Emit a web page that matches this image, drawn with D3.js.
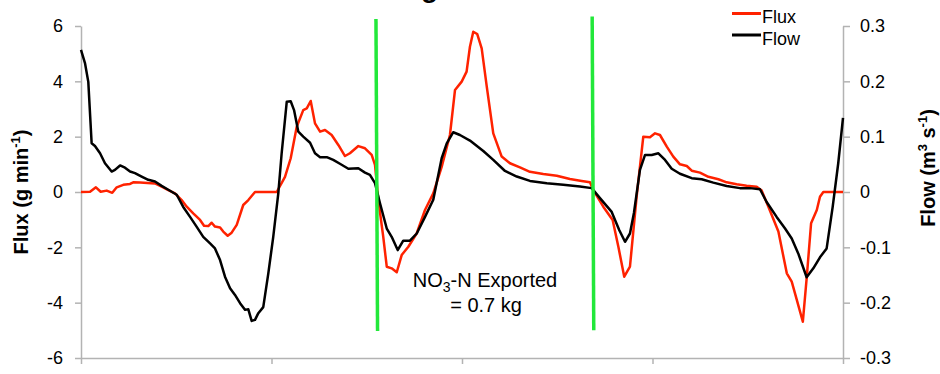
<!DOCTYPE html>
<html>
<head>
<meta charset="utf-8">
<script src="https://cdn.jsdelivr.net/npm/d3@7"></script>
<style>
  body { margin: 0; background: #fff; }
  svg text { font-family: "Liberation Sans", Arial, sans-serif; }
</style>
</head>
<body>
<div id="chart"></div>
<script>
// time (hours) and NO3-N flux (g/min)
var fluxT = [0,0.57,0.94,1.24,1.62,1.97,2.25,2.66,3.09,3.29,
  3.72,4.66,5.08,5.5,5.92,6.34,6.66,7.07,7.5,7.75,
  8.02,8.23,8.44,8.76,8.96,9.24,9.49,9.81,10.22,10.54,
  10.96,12.33,12.85,13.21,13.59,14,14.22,14.47,14.74,15.06,
  15.37,15.79,16.21,16.63,16.94,17.47,17.89,18.31,18.52,18.73,
  19.04,19.26,19.57,19.89,20.2,20.62,21.15,21.67,22.19,22.72,
  23.24,23.56,23.98,24.29,24.5,24.71,24.96,25.24,25.56,25.97,
  26.5,27.02,27.65,28.28,29.12,29.97,30.8,31.54,32.06,32.27,
  32.9,33.49,33.85,34.22,34.58,35,35.42,35.84,36.16,36.47,
  36.9,37.31,37.73,38.16,38.47,38.99,39.52,40.15,40.67,41.3,
  41.93,42.56,42.88,43.3,43.93,44.46,44.77,45.09,45.47,45.72,
  45.99,46.35,46.55,46.76,48];
var fluxV = [0,0.01,0.17,0.01,0.05,-0.03,0.17,0.26,0.29,0.35,
  0.34,0.31,0.19,0.07,-0.05,-0.29,-0.53,-0.77,-1.01,-1.22,
  -1.23,-1.11,-1.25,-1.28,-1.43,-1.58,-1.47,-1.19,-0.47,-0.29,
  0,0,0.55,1.22,2.36,2.96,3.02,3.29,2.48,2.18,
  2.24,2.06,1.70,1.30,1.40,1.66,1.58,1.34,0.98,-0.29,
  -1.62,-2.70,-2.76,-2.90,-2.28,-1.98,-1.49,-0.65,-0.05,0.91,
  2.06,3.69,3.99,4.35,5.25,5.79,5.71,5.19,3.81,2.12,
  1.28,1.04,0.89,0.73,0.65,0.59,0.47,0.40,0.35,0.07,
  -0.53,-1.01,-1.98,-3.06,-2.70,-0.17,2.00,1.98,2.12,2.06,
  1.64,1.28,1.00,0.94,0.77,0.70,0.55,0.46,0.35,0.28,
  0.23,0.19,0.05,-0.53,-1.43,-2.94,-3.24,-3.90,-4.69,-3.06,
  -1.13,-0.65,-0.17,0,0];

// time (hours) and flow (m3/s), black curve
var flowT = [0,0.25,0.46,0.67,0.88,1.2,1.51,1.93,2.14,2.46,
  2.77,3.09,3.4,3.82,4.24,4.66,5.08,5.5,6.03,6.44,
  6.87,7.29,7.7,8.13,8.44,8.76,9.07,9.39,9.7,10.02,
  10.33,10.54,10.75,10.96,11.17,11.48,11.8,12.11,12.43,12.64,
  12.96,13.21,13.42,13.69,14,14.43,14.74,15.06,15.48,15.89,
  16.31,16.84,17.47,17.89,18.2,18.52,18.83,19.26,19.57,19.95,
  20.3,20.72,21.15,21.67,22.19,22.72,23.04,23.45,23.87,24.5,
  25.34,25.97,26.71,27.45,28.28,29.34,30.38,31.43,32.17,32.69,
  33.43,33.91,34.27,34.58,34.83,35.21,35.53,35.95,36.37,36.79,
  37.21,37.73,38.47,39.1,39.83,40.67,41.51,42.14,42.77,43.19,
  43.82,44.35,44.77,45.18,45.71,46.13,46.55,46.97,47.35,47.7,
  48];
var flowV = [0.257,0.233,0.199,0.088,0.083,0.070,0.052,0.037,0.040,0.048,
  0.044,0.037,0.034,0.028,0.022,0.019,0.011,0.004,-0.005,-0.027,
  -0.045,-0.063,-0.081,-0.093,-0.102,-0.123,-0.153,-0.174,-0.186,-0.201,
  -0.213,-0.212,-0.233,-0.231,-0.219,-0.208,-0.147,-0.081,-0.002,0.070,
  0.163,0.164,0.148,0.109,0.100,0.089,0.070,0.063,0.063,0.058,
  0.051,0.042,0.043,0.035,0.031,0.016,-0.020,-0.066,-0.081,-0.105,
  -0.088,-0.088,-0.075,-0.045,-0.014,0.061,0.088,0.108,0.103,0.093,
  0.074,0.058,0.038,0.028,0.020,0.016,0.013,0.010,0.007,-0.011,
  -0.036,-0.069,-0.090,-0.075,-0.038,0.040,0.067,0.067,0.070,0.058,
  0.042,0.033,0.025,0.023,0.017,0.011,0.007,0.007,0.005,-0.018,
  -0.045,-0.066,-0.084,-0.111,-0.154,-0.138,-0.118,-0.102,-0.027,0.052,
  0.134];

// green markers bounding the export period: [t top, flux top, t bottom, flux bottom]
var markers = [[18.58, 6.25, 18.68, -5.02], [32.2, 6.34, 32.3, -5.0]];

var xTicks = [0, 12, 24, 36, 48];
var fluxTicks = [-6, -4, -2, 0, 2, 4, 6];
var flowTicks = [-0.3, -0.2, -0.1, 0, 0.1, 0.2, 0.3];

var width = 940, height = 374;
var margin = {top: 26, right: 97, bottom: 16, left: 81};
var w = width - margin.left - margin.right,
    h = height - margin.top - margin.bottom;

var svg = d3.select("#chart").append("svg")
    .attr("width", width)
    .attr("height", height);

var g = svg.append("g")
    .attr("transform", "translate(" + margin.left + "," + margin.top + ")");

var x = d3.scaleLinear().domain([0, 48]).range([0, w]);
var yL = d3.scaleLinear().domain([-6, 6]).range([h, 0]);
var yR = d3.scaleLinear().domain([-0.3, 0.3]).range([h, 0]);

// title (mostly off the top of the picture)
svg.append("text")
  .attr("x", 438)
  .attr("y", -3)
  .attr("text-anchor", "end")
  .style("font-size", "28px")
  .style("font-weight", "bold")
  .text("Tidal Loading");

// axes
var axisColor = "#b3b3b3";
function styleAxis(sel) {
  sel.selectAll("path, line").attr("stroke", axisColor).attr("stroke-width", 1.5);
  sel.selectAll("text").attr("fill", "#000").style("font-size", "18px")
    .style("font-family", "'Liberation Sans', Arial, sans-serif");
}

g.append("g")
  .attr("transform", "translate(0," + h + ")")
  .call(d3.axisBottom(x).tickValues(xTicks).tickFormat("").tickSize(6).tickSizeOuter(0))
  .call(styleAxis);

g.append("g")
  .call(d3.axisLeft(yL).tickValues(fluxTicks).tickFormat(function(d) { return String(d); })
    .tickSize(6).tickPadding(12).tickSizeOuter(0))
  .call(styleAxis);

g.append("g")
  .attr("transform", "translate(" + w + ",0)")
  .call(d3.axisRight(yR).tickValues(flowTicks).tickFormat(function(d) { return String(+d.toFixed(1)); })
    .tickSize(7).tickPadding(10).tickSizeOuter(0))
  .call(styleAxis);

// axis titles
var lt = svg.append("text")
  .attr("transform", "translate(28,192) rotate(-90)")
  .attr("text-anchor", "middle")
  .style("font-size", "20px")
  .style("font-weight", "bold");
lt.append("tspan").text("Flux (g min");
lt.append("tspan").attr("dy", -8).style("font-size", "13px").text("-1");
lt.append("tspan").attr("dy", 8).text(")");

var rt = svg.append("text")
  .attr("transform", "translate(935,168) rotate(-90)")
  .attr("text-anchor", "middle")
  .style("font-size", "20px")
  .style("font-weight", "bold");
rt.append("tspan").text("Flow (m");
rt.append("tspan").attr("dy", -8).style("font-size", "13px").text("3");
rt.append("tspan").attr("dy", 8).text(" s");
rt.append("tspan").attr("dy", -8).style("font-size", "13px").text("-1");
rt.append("tspan").attr("dy", 8).text(")");

// series
var fluxLine = d3.line().x(function(d) { return x(d[0]); }).y(function(d) { return yL(d[1]); });
var flowLine = d3.line().x(function(d) { return x(d[0]); }).y(function(d) { return yR(d[1]); });

g.append("path")
  .datum(d3.zip(fluxT, fluxV))
  .attr("d", fluxLine)
  .attr("fill", "none")
  .attr("stroke", "#ff2200")
  .attr("stroke-width", 2.5)
  .attr("stroke-linejoin", "round");

g.append("path")
  .datum(d3.zip(flowT, flowV))
  .attr("d", flowLine)
  .attr("fill", "none")
  .attr("stroke", "#000")
  .attr("stroke-width", 2.5)
  .attr("stroke-linejoin", "round");

// green period markers
g.selectAll(".marker")
  .data(markers)
  .enter().append("line")
  .attr("class", "marker")
  .attr("x1", function(d) { return x(d[0]); })
  .attr("y1", function(d) { return yL(d[1]); })
  .attr("x2", function(d) { return x(d[2]); })
  .attr("y2", function(d) { return yL(d[3]); })
  .attr("stroke", "#22e83a")
  .attr("stroke-width", 3.5);

// annotation
var ann = svg.append("text")
  .attr("x", 485)
  .attr("y", 287)
  .attr("text-anchor", "middle")
  .style("font-size", "20px");
ann.append("tspan").text("NO");
ann.append("tspan").attr("dy", 5).style("font-size", "14px").text("3");
ann.append("tspan").attr("dy", -5).text("-N Exported");

svg.append("text")
  .attr("x", 486)
  .attr("y", 312)
  .attr("text-anchor", "middle")
  .style("font-size", "20px")
  .text("= 0.7 kg");

// legend
var legend = [{name: "Flux", color: "#ff2200"}, {name: "Flow", color: "#000"}];
var lg = svg.append("g").selectAll("g")
  .data(legend)
  .enter().append("g")
  .attr("transform", function(d, i) { return "translate(732," + (13.5 + i * 21.5) + ")"; });
lg.append("line")
  .attr("x1", 0).attr("x2", 29)
  .attr("stroke", function(d) { return d.color; })
  .attr("stroke-width", 3);
lg.append("text")
  .attr("x", 30)
  .attr("y", 9.5)
  .style("font-size", "18px")
  .text(function(d) { return d.name; });
</script>
</body>
</html>
